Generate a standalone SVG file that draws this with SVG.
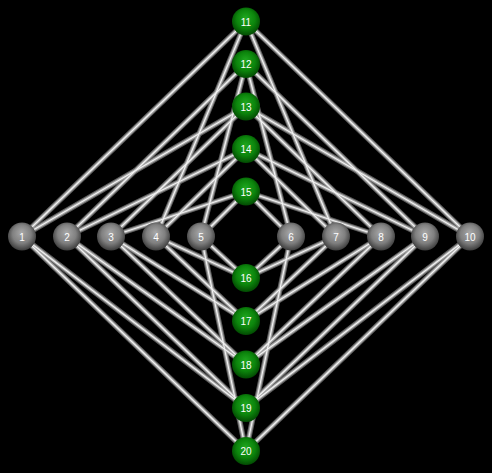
<svg xmlns="http://www.w3.org/2000/svg" xmlns:xlink="http://www.w3.org/1999/xlink" width="492" height="473" viewBox="0 0 492 473">
<style>
.lbl{font-family:"Liberation Sans Narrow","Liberation Sans",Arial,sans-serif;font-size:10px;fill:#ffffff;text-anchor:middle;dominant-baseline:central}
.g{fill:url(#gradGray)}
.v{fill:url(#gradGreen)}
</style>
<defs>
<radialGradient id="gradGray" cx="50%" cy="45%" r="55%" fx="48%" fy="35%">
<stop offset="0" stop-color="#a8a8a8"/>
<stop offset="0.6" stop-color="#808080"/>
<stop offset="1" stop-color="#3c3c3c"/>
</radialGradient>
<radialGradient id="gradGreen" cx="50%" cy="45%" r="55%" fx="48%" fy="35%">
<stop offset="0" stop-color="#1fa61f"/>
<stop offset="0.6" stop-color="#0c850c"/>
<stop offset="1" stop-color="#024a02"/>
</radialGradient>
</defs>
<rect width="492" height="473" fill="#000"/>
<g id="connectors" fill="none" stroke-linecap="round">
<g stroke="#5c5c5c" stroke-width="5.5">
<g id="E">
<line x1="246" y1="21.5" x2="22" y2="236.5"/>
<line x1="246" y1="21.5" x2="156" y2="236.5"/>
<line x1="246" y1="21.5" x2="336" y2="236.5"/>
<line x1="246" y1="21.5" x2="470" y2="236.5"/>
<line x1="246" y1="64" x2="67" y2="236.5"/>
<line x1="246" y1="64" x2="201" y2="236.5"/>
<line x1="246" y1="64" x2="291" y2="236.5"/>
<line x1="246" y1="64" x2="425" y2="236.5"/>
<line x1="246" y1="106.5" x2="22" y2="236.5"/>
<line x1="246" y1="106.5" x2="111" y2="236.5"/>
<line x1="246" y1="106.5" x2="381" y2="236.5"/>
<line x1="246" y1="106.5" x2="470" y2="236.5"/>
<line x1="246" y1="149" x2="67" y2="236.5"/>
<line x1="246" y1="149" x2="156" y2="236.5"/>
<line x1="246" y1="149" x2="336" y2="236.5"/>
<line x1="246" y1="149" x2="425" y2="236.5"/>
<line x1="246" y1="191.5" x2="111" y2="236.5"/>
<line x1="246" y1="191.5" x2="201" y2="236.5"/>
<line x1="246" y1="191.5" x2="291" y2="236.5"/>
<line x1="246" y1="191.5" x2="381" y2="236.5"/>
<line x1="246" y1="278" x2="156" y2="236.5"/>
<line x1="246" y1="278" x2="201" y2="236.5"/>
<line x1="246" y1="278" x2="291" y2="236.5"/>
<line x1="246" y1="278" x2="336" y2="236.5"/>
<line x1="246" y1="321" x2="111" y2="236.5"/>
<line x1="246" y1="321" x2="156" y2="236.5"/>
<line x1="246" y1="321" x2="336" y2="236.5"/>
<line x1="246" y1="321" x2="381" y2="236.5"/>
<line x1="246" y1="364.5" x2="67" y2="236.5"/>
<line x1="246" y1="364.5" x2="111" y2="236.5"/>
<line x1="246" y1="364.5" x2="381" y2="236.5"/>
<line x1="246" y1="364.5" x2="425" y2="236.5"/>
<line x1="246" y1="408" x2="22" y2="236.5"/>
<line x1="246" y1="408" x2="67" y2="236.5"/>
<line x1="246" y1="408" x2="425" y2="236.5"/>
<line x1="246" y1="408" x2="470" y2="236.5"/>
<line x1="246" y1="451" x2="22" y2="236.5"/>
<line x1="246" y1="451" x2="201" y2="236.5"/>
<line x1="246" y1="451" x2="291" y2="236.5"/>
<line x1="246" y1="451" x2="470" y2="236.5"/>
</g>
</g>
<use xlink:href="#E" stroke="#a6a6a6" stroke-width="3.4"/>
<use xlink:href="#E" stroke="#f2f2f2" stroke-width="1.2"/>
</g>
<g id="n1"><circle class="g" cx="22" cy="236.5" r="14"/><text class="lbl" x="22" y="237">1</text></g>
<g id="n2"><circle class="g" cx="67" cy="236.5" r="14"/><text class="lbl" x="67" y="237">2</text></g>
<g id="n3"><circle class="g" cx="111" cy="236.5" r="14"/><text class="lbl" x="111" y="237">3</text></g>
<g id="n4"><circle class="g" cx="156" cy="236.5" r="14"/><text class="lbl" x="156" y="237">4</text></g>
<g id="n5"><circle class="g" cx="201" cy="236.5" r="14"/><text class="lbl" x="201" y="237">5</text></g>
<g id="n6"><circle class="g" cx="291" cy="236.5" r="14"/><text class="lbl" x="291" y="237">6</text></g>
<g id="n7"><circle class="g" cx="336" cy="236.5" r="14"/><text class="lbl" x="336" y="237">7</text></g>
<g id="n8"><circle class="g" cx="381" cy="236.5" r="14"/><text class="lbl" x="381" y="237">8</text></g>
<g id="n9"><circle class="g" cx="425" cy="236.5" r="14"/><text class="lbl" x="425" y="237">9</text></g>
<g id="n10"><circle class="g" cx="470" cy="236.5" r="14"/><text class="lbl" x="470" y="237">10</text></g>
<g id="n11"><circle class="v" cx="246" cy="21.5" r="14"/><text class="lbl" x="246" y="22">11</text></g>
<g id="n12"><circle class="v" cx="246" cy="64" r="14"/><text class="lbl" x="246" y="64.5">12</text></g>
<g id="n13"><circle class="v" cx="246" cy="106.5" r="14"/><text class="lbl" x="246" y="107">13</text></g>
<g id="n14"><circle class="v" cx="246" cy="149" r="14"/><text class="lbl" x="246" y="149.5">14</text></g>
<g id="n15"><circle class="v" cx="246" cy="191.5" r="14"/><text class="lbl" x="246" y="192">15</text></g>
<g id="n16"><circle class="v" cx="246" cy="278" r="14"/><text class="lbl" x="246" y="278.5">16</text></g>
<g id="n17"><circle class="v" cx="246" cy="321" r="14"/><text class="lbl" x="246" y="321.5">17</text></g>
<g id="n18"><circle class="v" cx="246" cy="364.5" r="14"/><text class="lbl" x="246" y="365">18</text></g>
<g id="n19"><circle class="v" cx="246" cy="408" r="14"/><text class="lbl" x="246" y="408.5">19</text></g>
<g id="n20"><circle class="v" cx="246" cy="451" r="14"/><text class="lbl" x="246" y="451.5">20</text></g>
</svg>
